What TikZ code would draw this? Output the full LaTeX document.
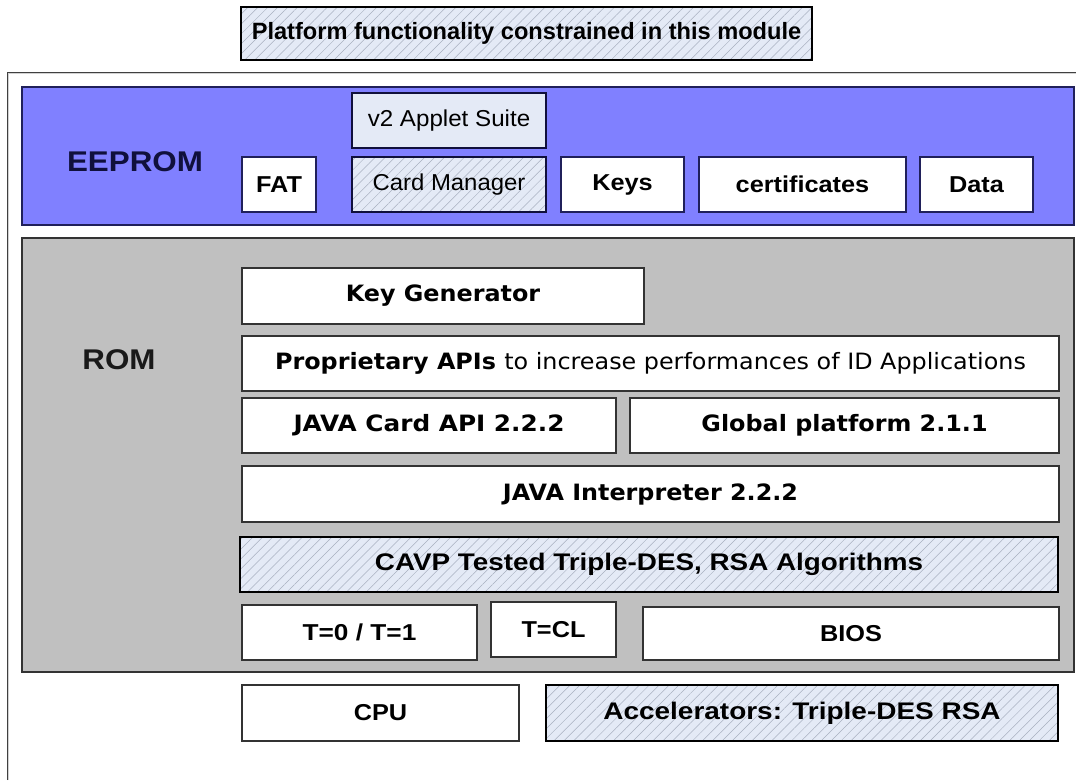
\documentclass[tikz,border=0pt]{standalone}
\usepackage{fontspec}
\setmainfont{Liberation Sans}
\newfontfamily\dvfont{DejaVu Sans}
\usetikzlibrary{patterns.meta}
\definecolor{eeblue}{HTML}{8080FF}
\definecolor{eeborder}{HTML}{20205A}
\definecolor{eetext}{HTML}{10103C}
\definecolor{romgray}{HTML}{C0C0C0}
\definecolor{hatchbg}{HTML}{E4EAF6}
\definecolor{hatchline}{HTML}{A8B0C0}
\newcommand{\sx}[1]{\scalebox{1.1}[1]{#1}}
\newcommand{\dx}[1]{\scalebox{1.06}[1]{#1}}
\tikzset{
  every node/.style={inner sep=0pt, outer sep=0pt},
  layer/.style={draw=#1, line width=1.5pt},
  eebox/.style={draw=eeborder, line width=1.6pt, fill=white, font=\bfseries\fontsize{23}{26}\selectfont},
  rombox/.style={draw=black!80, line width=1.6pt, fill=white, font=\bfseries\fontsize{23}{26}\selectfont},
  dvbox/.style={draw=black!80, line width=1.6pt, fill=white, font=\dvfont\bfseries\fontsize{22.5}{26}\selectfont},
  hatchbox/.style={draw=black, line width=2.6pt, preaction={fill=hatchbg},
     pattern={Lines[angle=45,distance=7pt,line width=0.5pt]}, pattern color=hatchline,
     font=\bfseries\fontsize{24}{27}\selectfont},
  bigtitle/.style={font=\bfseries\fontsize{28.5}{32}\selectfont},
}
\begin{document}
\begin{tikzpicture}[x=1pt,y=-1pt]
\useasboundingbox (0,0) rectangle (1076,780);
\fill[white] (0,0) rectangle (1076,780);
% outer frame
\coordinate (fa) at (8,780);
\coordinate (fb) at (8,73);
\coordinate (fc) at (1080,73);
\draw[draw=black!75, double=gray!35, double distance=1pt, line width=0.8pt] (fa) -- (fb) -- (fc);
% title
\node[hatchbox, line width=1.6pt, minimum width=571pt, minimum height=53pt, font=\bfseries\fontsize{23.6}{27}\selectfont] (title) at (526.5,33.5) {Platform functionality constrained in this module};
% EEPROM layer
\node[layer=eeborder, fill=eeblue, minimum width=1052pt, minimum height=138pt] (eeprom) at (548,156) {};
\node[bigtitle, text=eetext] (eelabel) at (135,162) {\sx{EEPROM}};
\node[eebox, line width=2.6pt, draw=eetext, fill=hatchbg, font=\fontsize{23}{26}\selectfont, minimum width=194pt, minimum height=55pt] (v2) at (449,120.5) {\scalebox{1.05}[1]{v2 Applet Suite}};
\node[hatchbox, draw=eetext, font=\fontsize{23}{26}\selectfont, minimum width=194pt, minimum height=55pt] (cm) at (449,184.5) {\scalebox{1.04}[1]{Card Manager}};
\node[eebox, minimum width=74pt, minimum height=55pt] (fat) at (279,184.5) {\sx{FAT}};
\node[eebox, minimum width=123pt, minimum height=55pt] (keys) at (622.5,184.5) {\sx{Keys}};
\node[eebox, minimum width=207pt, minimum height=55pt] (cert) at (802.5,184.5) {\sx{certificates}};
\node[eebox, minimum width=113pt, minimum height=55pt] (data) at (976.5,184.5) {\sx{Data}};
% ROM layer
\node[layer=black!80, fill=romgray, minimum width=1052pt, minimum height=434pt] (rom) at (548,455) {};
\node[bigtitle, text=black!90] (romlabel) at (119,360) {\sx{ROM}};
\node[dvbox, minimum width=402pt, minimum height=56pt] (keygen) at (443,296) {\dx{Key Generator}};
\node[dvbox, minimum width=817pt, minimum height=55pt] (prop) at (650.5,363.5) {\dx{Proprietary APIs {\mdseries to increase performances of ID Applications}}};
\node[dvbox, minimum width=374pt, minimum height=55pt] (jca) at (429,425.5) {\scalebox{1.1}[1]{JAVA Card API 2.2.2}};
\node[dvbox, minimum width=429pt, minimum height=55pt] (gp) at (844.5,425.5) {\dx{Global platform 2.1.1}};
\node[dvbox, minimum width=817pt, minimum height=56pt] (interp) at (650.5,494) {\dx{JAVA Interpreter 2.2.2}};
\node[hatchbox, minimum width=818pt, minimum height=55pt] (cavp) at (649,564.5) {\scalebox{1.16}[1]{CAVP Tested Triple-DES, RSA Algorithms}};
\node[rombox, minimum width=235pt, minimum height=55pt] (t01) at (359.5,632.5) {\scalebox{1.14}[1]{T=0 / T=1}};
\node[rombox, minimum width=125pt, minimum height=55pt] (tcl) at (553.5,629.5) {\sx{T=CL}};
\node[rombox, minimum width=416pt, minimum height=53pt] (bios) at (851,633.5) {\sx{BIOS}};
% hardware
\node[rombox, minimum width=277pt, minimum height=56pt] (cpu) at (380.5,713) {\sx{CPU}};
\node[hatchbox, minimum width=512pt, minimum height=56pt] (acc) at (802,713) {\scalebox{1.165}[1]{Accelerators: Triple-DES RSA}};
\end{tikzpicture}
\end{document}
